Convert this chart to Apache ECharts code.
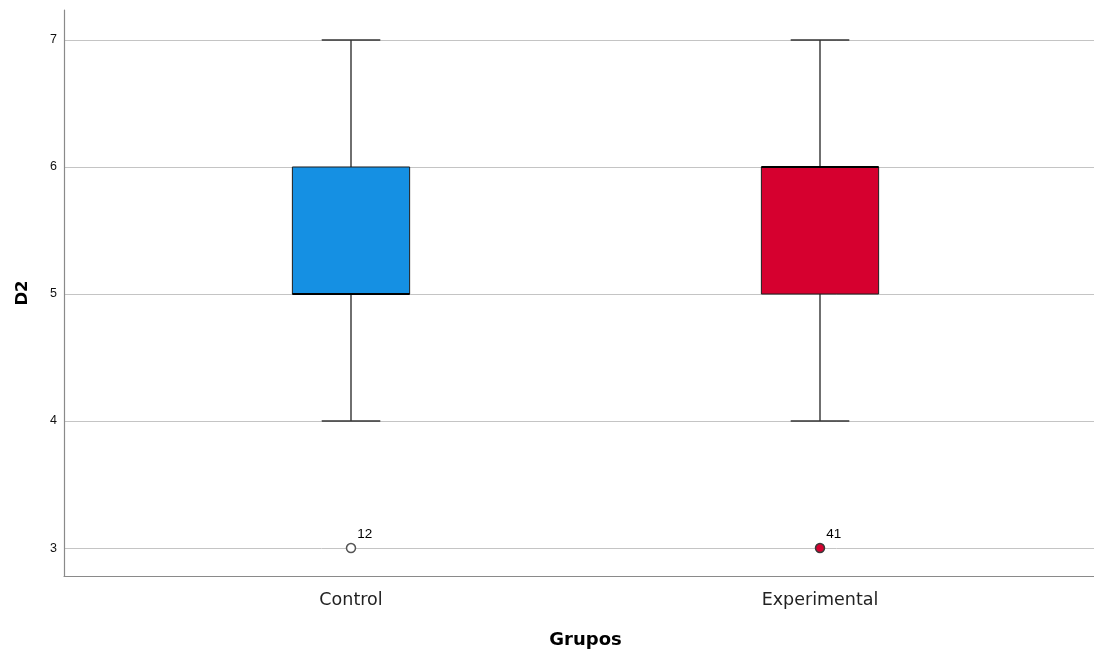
<!DOCTYPE html>
<html>
<head>
<meta charset="utf-8">
<script src="https://cdn.jsdelivr.net/npm/echarts@6/dist/echarts.min.js"></script>
<style>
html,body{margin:0;padding:0;background:#fff;}
#chart{width:1094px;height:650px;}
</style>
</head>
<body>
<div id="chart"></div>
<script>
// ---- data ----
var categories = ['Control', 'Experimental'];
var whiskerLow = [4, 4];
var q1 = [5, 5];
var median = [5, 6];
var q3 = [6, 6];
var whiskerHigh = [7, 7];
var outlierGroup = ['Control', 'Experimental'];
var outlierValue = [3, 3];
var outlierCase = ['12', '41'];
var yTicks = [3, 4, 5, 6, 7];

// ---- styles ----
var boxColors = ['#1590e3', '#d6002f'];
var outlierFill = ['#ffffff', '#d6002f'];
var outlierStroke = ['#555555', '#3a3a3a'];

var Y_MIN = 2.78, Y_MAX = 7.236;

var boxData = categories.map(function (c, i) {
  return [i, whiskerLow[i], q1[i], median[i], q3[i], whiskerHigh[i]];
});

var outlierData = outlierGroup.map(function (g, i) {
  return {
    value: [g, outlierValue[i]],
    name: outlierCase[i],
    itemStyle: { color: outlierFill[i], borderColor: outlierStroke[i], borderWidth: 1.5, opacity: 1 }
  };
});

function renderBox(params, api) {
  var i = api.value(0);
  var band = api.size([1, 0])[0];
  var bw = band * 0.25;
  var cw = bw / 2;
  var pLo = api.coord([i, api.value(1)]);
  var pQ1 = api.coord([i, api.value(2)]);
  var pMed = api.coord([i, api.value(3)]);
  var pQ3 = api.coord([i, api.value(4)]);
  var pHi = api.coord([i, api.value(5)]);
  var x = pLo[0];
  var wStyle = { stroke: '#333333', lineWidth: 1.4 };
  return {
    type: 'group',
    children: [
      { type: 'line', shape: { x1: x, y1: pLo[1], x2: x, y2: pQ1[1] }, style: wStyle },
      { type: 'line', shape: { x1: x, y1: pQ3[1], x2: x, y2: pHi[1] }, style: wStyle },
      { type: 'line', shape: { x1: x - cw / 2, y1: pLo[1], x2: x + cw / 2, y2: pLo[1] }, style: wStyle },
      { type: 'line', shape: { x1: x - cw / 2, y1: pHi[1], x2: x + cw / 2, y2: pHi[1] }, style: wStyle },
      { type: 'rect', shape: { x: x - bw / 2, y: pQ3[1], width: bw, height: pQ1[1] - pQ3[1] },
        style: { fill: boxColors[i], stroke: '#1e1e1e', lineWidth: 1 } },
      { type: 'line', shape: { x1: x - bw / 2, y1: pMed[1], x2: x + bw / 2, y2: pMed[1] },
        style: { stroke: '#000', lineWidth: 2.2 } }
    ]
  };
}

var chart = echarts.init(document.getElementById('chart'), null, { renderer: 'canvas' });
chart.setOption({
  animation: false,
  backgroundColor: '#ffffff',
  grid: [
    { left: 64, right: 0, top: 10, bottom: 74, containLabel: false, outerBoundsMode: 'none' },
    { left: 116.5, right: 39.5, top: 10, bottom: 74, containLabel: false, outerBoundsMode: 'none' }
  ],
  xAxis: [
    {
      gridIndex: 0, type: 'value', min: 0, max: 1,
      axisLine: { show: true, onZero: false, lineStyle: { color: '#8a8a8a', width: 1.2 } },
      axisTick: { show: false }, axisLabel: { show: false }, splitLine: { show: false }
    },
    {
      gridIndex: 1, type: 'category', data: categories, boundaryGap: true,
      axisLine: { show: false }, axisTick: { show: false }, splitLine: { show: false },
      axisLabel: { margin: 15, fontFamily: 'DejaVu Sans', fontSize: 17.5, color: '#222' },
      name: 'Grupos', nameLocation: 'middle', nameGap: 55,
      nameTextStyle: { fontFamily: 'DejaVu Sans', fontWeight: 'bold', fontSize: 18, color: '#000' }
    }
  ],
  yAxis: [
    {
      gridIndex: 0, type: 'value', min: Y_MIN, max: Y_MAX,
      axisLine: { show: true, onZero: false, lineStyle: { color: '#8a8a8a', width: 1.2 } },
      axisTick: { show: false, customValues: yTicks },
      axisLabel: { customValues: yTicks, margin: 7, fontFamily: 'Liberation Sans', fontSize: 12.5, color: '#111' },
      splitLine: { show: true, lineStyle: { color: '#c4c4c4', width: 1 } },
      name: 'D2', nameLocation: 'middle', nameRotate: 90, nameGap: 33,
      nameTextStyle: { fontFamily: 'DejaVu Sans', fontWeight: 'bold', fontSize: 16.5, color: '#000' }
    },
    {
      gridIndex: 1, type: 'value', min: Y_MIN, max: Y_MAX, show: false,
      splitLine: { show: false }
    }
  ],
  series: [
    {
      type: 'custom', xAxisIndex: 1, yAxisIndex: 1,
      data: boxData, encode: { x: 0, y: [1, 2, 3, 4, 5] },
      renderItem: renderBox, z: 3
    },
    {
      type: 'scatter', xAxisIndex: 1, yAxisIndex: 1,
      data: outlierData, symbol: 'circle', symbolSize: 9, z: 4,
      itemStyle: { opacity: 1 },
      label: {
        show: true, formatter: '{b}', position: [11.5, -16],
        fontFamily: 'Liberation Sans', fontSize: 13.5, color: '#000'
      }
    }
  ]
});
</script>
</body>
</html>
